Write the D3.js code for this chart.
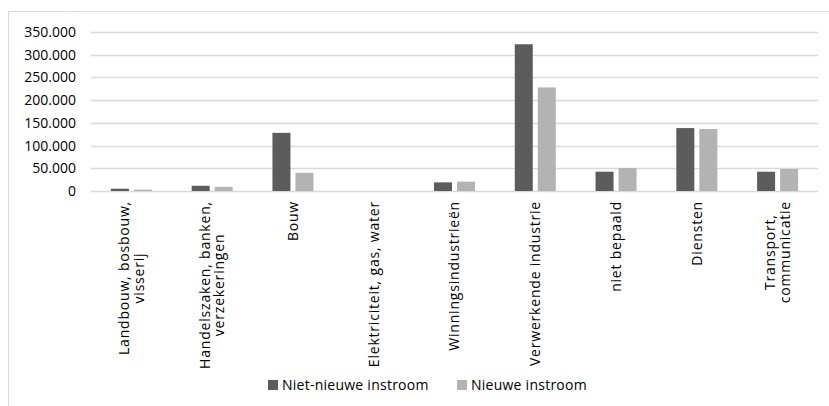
<!DOCTYPE html>
<html>
<head>
<meta charset="utf-8">
<script src="https://cdn.jsdelivr.net/npm/d3@7"></script>
<style>
  html, body { margin: 0; padding: 0; background: #fff; }
  text { font-family: "Open Sans", "Liberation Sans", sans-serif; fill: #000; }
</style>
</head>
<body>
<svg id="chart" width="829" height="406"></svg>
<script>
const categories = [
  ["Landbouw, bosbouw,", "visserij"],
  ["Handelszaken, banken,", "verzekeringen"],
  ["Bouw"],
  ["Elektriciteit, gas, water"],
  ["Winningsindustrieën"],
  ["Verwerkende industrie"],
  ["niet bepaald"],
  ["Diensten"],
  ["Transport,", "communicatie"]
];
const seriesNames = ["Niet-nieuwe instroom", "Nieuwe instroom"];
const nietNieuwe = [5000, 11500, 128000, 0, 19000, 323000, 42500, 138500, 42500];
const nieuwe = [3000, 9000, 40000, 0, 20500, 228000, 50500, 136500, 48500];
const yTicks = [0, 50000, 100000, 150000, 200000, 250000, 300000, 350000];
const colors = ["#5c5c5c", "#b3b3b3"];

(function () {
const svg = d3.select("#chart");
const W = 829, H = 406;

// outer frame
svg.append("rect").attr("x", 8.5).attr("y", 11.5).attr("width", W + 10).attr("height", H + 10)
  .attr("fill", "none").attr("stroke", "#d9d9d9").attr("stroke-width", 1);

const mLeft = 91, mRight = 818, mTop = 32, mBottom = 191;
const x = d3.scaleBand().domain(d3.range(categories.length)).range([mLeft, mRight]);
const y = d3.scaleLinear().domain([0, 350000]).range([mBottom, mTop]);

const fmt = v => v === 0 ? "0" : d3.format(",")(v).replace(/,/g, ".");

// gridlines
svg.append("g").selectAll("line").data(yTicks).join("line")
  .attr("x1", mLeft).attr("x2", mRight)
  .attr("y1", d => Math.round(y(d)) + 0.5).attr("y2", d => Math.round(y(d)) + 0.5)
  .attr("stroke", "#d9d9d9").attr("stroke-width", 1.3);

// y axis labels
const yAxis = d3.axisLeft(y).tickValues(yTicks).tickFormat(fmt).tickSize(0).tickPadding(0);
const yg = svg.append("g").attr("transform", `translate(${76},0)`).call(yAxis);
yg.select(".domain").remove();
yg.selectAll("text").attr("font-size", 14).attr("font-family", "'Open Sans', sans-serif").attr("fill", "#000");

// bars
const barW = 18, gap = 5;
const series = [nietNieuwe, nieuwe];
series.forEach((vals, si) => {
  svg.append("g").selectAll("rect").data(vals).join("rect")
    .attr("x", (d, i) => x(i) + x.bandwidth() / 2 - barW - gap / 2 + si * (barW + gap))
    .attr("width", barW)
    .attr("y", d => y(d))
    .attr("height", d => y(0) - y(d))
    .attr("fill", colors[si]);
});

// category labels (rotated)
const lineH = 14.5;
const ls = 0.8;
categories.forEach((lines, i) => {
  const cx = x(i) + x.bandwidth() / 2;
  const g = svg.append("g").attr("transform", `translate(${cx},${201}) rotate(-90)`);
  const n = lines.length;
  const tmp = g.append("text").attr("font-size", 14).attr("letter-spacing", ls);
  let maxW = 0;
  lines.forEach(l => { tmp.text(l); maxW = Math.max(maxW, tmp.node().getComputedTextLength()); });
  tmp.remove();
  lines.forEach((l, k) => {
    g.append("text")
      .attr("x", -maxW / 2)
      .attr("y", (k - (n - 1) / 2) * lineH)
      .attr("dy", "0.35em")
      .attr("text-anchor", "middle")
      .attr("font-size", 14)
      .attr("letter-spacing", ls)
      .text(l);
  });
});

// legend
const legend = svg.append("g");
const legX = [268, 457];
seriesNames.forEach((name, si) => {
  legend.append("rect").attr("x", legX[si]).attr("y", 380).attr("width", 10).attr("height", 10).attr("fill", colors[si]);
  legend.append("text").attr("x", legX[si] + 14).attr("y", 385).attr("dy", "0.35em")
    .attr("font-size", 14).attr("letter-spacing", 0.25).text(name);
});
})();
</script>
</body>
</html>
